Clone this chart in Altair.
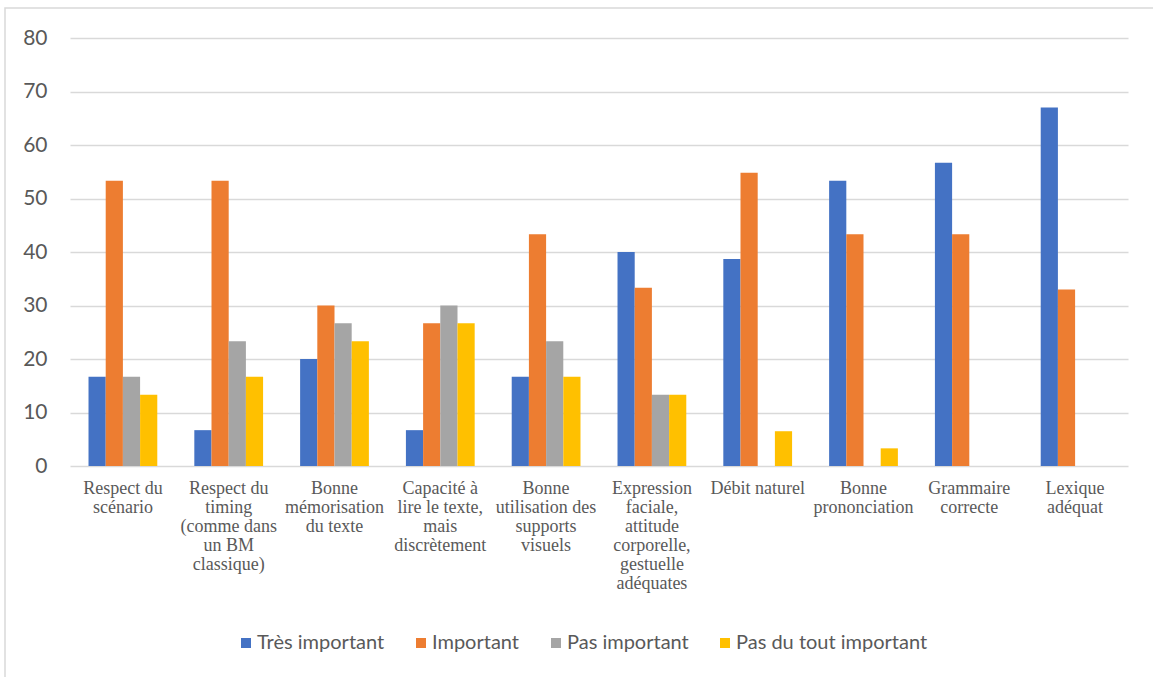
import altair as alt
import pandas as pd

categories = [
    "Respect du|scénario",
    "Respect du|timing|(comme dans|un BM|classique)",
    "Bonne|mémorisation|du texte",
    "Capacité à|lire le texte,|mais|discrètement",
    "Bonne|utilisation des|supports|visuels",
    "Expression|faciale,|attitude|corporelle,|gestuelle|adéquates",
    "Débit naturel",
    "Bonne|prononciation",
    "Grammaire|correcte",
    "Lexique|adéquat",
]
series = ["Très important", "Important", "Pas important", "Pas du tout important"]
colors = ["#4472C4", "#ED7D31", "#A5A5A5", "#FFC000"]

tres_important = [16.7, 6.7, 20.0, 6.7, 16.7, 40.0, 38.7, 53.3, 56.7, 67.0]
important = [53.3, 53.3, 30.0, 26.7, 43.3, 33.3, 54.8, 43.3, 43.3, 33.0]
pas_important = [16.7, 23.3, 26.7, 30.0, 23.3, 13.3, 0, 0, 0, 0]
pas_du_tout = [13.3, 16.7, 23.3, 26.7, 16.7, 13.3, 6.5, 3.3, 0, 0]

values = [tres_important, important, pas_important, pas_du_tout]
rows = []
for s, vals in zip(series, values):
    for c, v in zip(categories, vals):
        rows.append({"cat": c, "series": s, "value": v})
df = pd.DataFrame(rows)

SERIF = "Liberation Serif"

bars = alt.Chart(df).mark_bar().encode(
    x=alt.X(
        "cat:N",
        sort=categories,
        scale=alt.Scale(paddingInner=0.35, paddingOuter=0.175),
        axis=alt.Axis(
            title=None, labelAngle=0, labelExpr="split(datum.label, '|')",
            labelFont=SERIF, labelFontSize=18, labelColor="#595959",
            labelLineHeight=19, domain=False, ticks=False, tickSize=0,
            labelPadding=13, grid=False, labelLimit=300, labelBaseline="top",
        ),
    ),
    xOffset=alt.XOffset("series:N", sort=series,
                        scale=alt.Scale(paddingInner=0, paddingOuter=0)),
    y=alt.Y(
        "value:Q",
        scale=alt.Scale(domain=[0, 80], nice=False),
        axis=alt.Axis(
            title=None, values=list(range(0, 81, 10)), domain=False, ticks=False,
            tickSize=0, labelPadding=23, labelFont="Lato", labelFontSize=21,
            labelColor="#595959", gridColor="#d9d9d9", gridWidth=1.3,
        ),
    ),
    color=alt.Color(
        "series:N", sort=series,
        scale=alt.Scale(domain=series, range=colors),
        legend=alt.Legend(
            title=None, orient="none", direction="horizontal",
            legendX=166, legendY=595, symbolType="square", symbolSize=100,
            labelFont="Lato", labelFontSize=20, labelColor="#595959",
            columnPadding=26, labelOffset=1, symbolStrokeWidth=0,
            labelLimit=400,
        ),
    ),
)

frame = alt.Chart(pd.DataFrame({"a": [0]})).mark_rect(
    filled=False, stroke="#d9d9d9", strokeWidth=1.5, clip=False
).encode(
    x=alt.value(-65), x2=alt.value(1100), y=alt.value(-30), y2=alt.value(660)
)

chart = alt.layer(frame, bars).properties(
    width=1058, height=428,
    autosize=alt.AutoSizeParams(type="none"),
    padding={"left": 70, "top": 38, "right": 25, "bottom": 211},
    background="white",
).configure_view(stroke=None)

chart.save("out.html", embed_options={"renderer": "svg", "actions": False})
